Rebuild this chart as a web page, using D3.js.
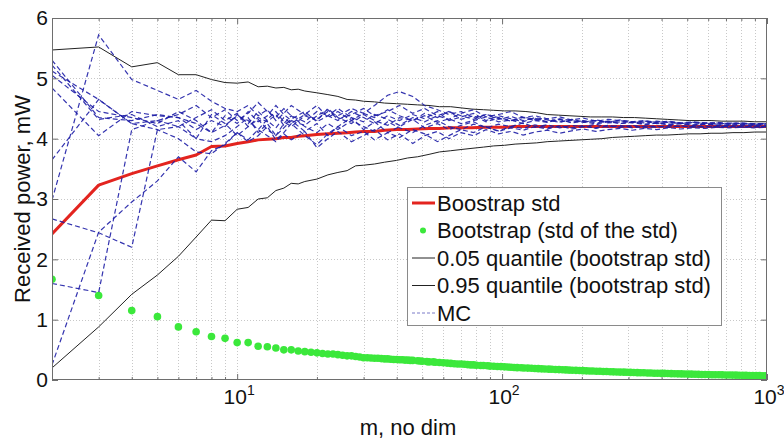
<!DOCTYPE html>
<html><head><meta charset="utf-8">
<script src="https://cdn.jsdelivr.net/npm/d3@7"></script>
<style>body{margin:0;background:#fff} text{font-family:"Liberation Sans",Arial,sans-serif;fill:#111}</style>
</head><body>
<svg id="c" width="784" height="439"></svg>
<script>
// ---------- data ----------
const qM=[2,3,4,5,6,7,8,9,10,11,12,13,14,15,16,17,18,20,22,24,26,28,30,33,36,40,44,48,53,58,64,70,77,85,93,102,112,123,135,148,163,179,197,216,238,261,287,316,347,382,420,462,508,559,615,676,744,818,900,1000];
const bootStd=[2.42,3.23,3.42,3.55,3.65,3.73,3.87,3.88,3.92,3.95,3.98,3.99,4.00,4.02,4.02,4.04,4.05,4.07,4.08,4.09,4.10,4.11,4.12,4.12,4.14,4.15,4.15,4.16,4.17,4.17,4.18,4.18,4.18,4.19,4.19,4.19,4.20,4.20,4.20,4.20,4.20,4.20,4.20,4.20,4.20,4.20,4.20,4.20,4.20,4.20,4.20,4.20,4.20,4.20,4.20,4.20,4.20,4.20,4.20,4.20];
const q05=[0.20,0.88,1.42,1.74,2.05,2.37,2.65,2.64,2.83,2.86,3.00,3.02,3.14,3.18,3.26,3.25,3.29,3.33,3.40,3.44,3.47,3.55,3.56,3.58,3.61,3.64,3.68,3.70,3.74,3.78,3.80,3.82,3.84,3.86,3.88,3.89,3.91,3.92,3.93,3.95,3.96,3.97,3.98,3.99,4.00,4.02,4.03,4.04,4.05,4.06,4.06,4.07,4.08,4.08,4.09,4.09,4.10,4.10,4.11,4.11];
const q95=[5.47,5.52,5.19,5.26,5.06,5.06,4.98,4.93,4.92,4.94,4.86,4.87,4.84,4.85,4.81,4.82,4.79,4.76,4.73,4.70,4.65,4.64,4.62,4.61,4.59,4.58,4.57,4.56,4.55,4.53,4.53,4.51,4.49,4.48,4.47,4.46,4.46,4.45,4.43,4.40,4.39,4.38,4.37,4.36,4.36,4.36,4.35,4.35,4.34,4.33,4.32,4.31,4.30,4.30,4.30,4.29,4.29,4.29,4.28,4.28];

const greenM=[2,3,4,5,6,7,8,9,10,11,12,13,14,15,16,17,18,19,20,21,22,23,24,25,26,27,28,29,
30,31,32,33,34,35,36,37,38,39,40,41,42,43,44,45,46,48,49,50,52,53,55,56,58,60,62,64,66,68,70,72,74,76,78,80,83,85,88,90,93,96,99,
102,105,108,111,114,118,121,125,129,133,137,141,145,150,154,159,164,169,174,179,184,190,196,202,208,214,220,227,234,241,248,256,263,271,279,288,296,
305,314,324,333,343,354,364,375,386,398,410,422,435,448,461,475,489,504,519,535,551,567,584,602,620,638,658,677,698,719,740,763,785,809,833,858,884,910,938,966,995,1000];
const greenV=[1.67,1.40,1.15,1.05,0.88,0.80,0.72,0.69,0.62,0.62,0.56,0.55,0.53,0.50,0.50,0.48,0.47,0.46,0.45,0.44,0.43,0.43,0.42,0.41,0.40,0.40,0.39,0.38,
0.37,0.37,0.365,0.36,0.36,0.355,0.35,0.35,0.345,0.34,0.34,0.335,0.335,0.33,0.33,0.325,0.325,0.32,0.315,0.31,0.305,0.30,0.30,0.295,0.29,0.285,0.28,0.275,0.27,0.265,0.265,0.26,0.255,0.25,0.25,0.245,0.24,0.24,0.235,0.23,0.228,0.225,0.222,
0.218,0.215,0.212,0.208,0.205,0.202,0.20,0.197,0.194,0.19,0.188,0.185,0.183,0.18,0.177,0.174,0.172,0.17,0.167,0.164,0.162,0.16,0.157,0.155,0.152,0.15,0.148,0.146,0.144,0.142,0.14,0.137,0.135,0.133,0.131,0.13,0.128,
0.126,0.124,0.122,0.12,0.119,0.117,0.115,0.113,0.112,0.11,0.109,0.107,0.105,0.104,0.102,0.101,0.10,0.098,0.097,0.095,0.094,0.092,0.091,0.09,0.088,0.087,0.086,0.085,0.083,0.082,0.081,0.08,0.079,0.077,0.076,0.075,0.074,0.073,0.072,0.071,0.07,0.07];

const mcM=[2,3,4,5,6,7,8,9,10,11,12,13,14,15,16,18,20,22,24,27,30,33,37,41,46,51,57,63,70,78,87,97,108,120,133,148,165,183,203,226,251,279,310,345,383,426,473,526,584,649,721,801,890,1000];
const mc1=[5.30,4.35,4.30,4.40,4.35,4.25,4.10,4.22,4.38,4.30,4.15,4.32,4.45,4.28,4.20,4.38,4.30,4.50,4.35,4.25,4.40,4.30,4.22,4.35,4.30,4.38,4.27,4.33,4.25,4.30,4.36,4.28,4.31,4.25,4.30,4.27,4.32,4.26,4.29,4.24,4.28,4.25,4.27,4.23,4.26,4.24,4.25,4.22,4.24,4.23,4.22,4.24,4.22,4.23];
const mc2=[5.22,4.32,4.40,4.20,4.30,4.00,3.95,4.05,4.20,4.35,4.10,4.25,4.05,4.18,4.30,4.12,4.25,4.05,4.20,4.35,4.15,4.28,4.10,4.20,4.32,4.18,4.25,4.15,4.22,4.28,4.18,4.24,4.20,4.26,4.19,4.23,4.18,4.22,4.20,4.24,4.19,4.22,4.18,4.21,4.19,4.22,4.20,4.21,4.19,4.21,4.20,4.21,4.19,4.20];
const mc3=[2.98,5.72,4.98,4.80,4.65,4.80,4.62,4.50,4.45,4.55,4.38,4.48,4.30,4.42,4.55,4.40,4.32,4.45,4.38,4.50,4.42,4.55,4.72,4.78,4.70,4.55,4.48,4.40,4.45,4.35,4.40,4.32,4.37,4.30,4.34,4.28,4.32,4.27,4.30,4.26,4.29,4.25,4.28,4.24,4.26,4.23,4.25,4.23,4.24,4.22,4.23,4.22,4.23,4.22];
const mc4=[5.12,4.65,4.25,4.15,4.00,3.78,3.75,3.92,4.10,3.95,4.05,4.20,3.98,4.10,4.25,4.05,3.90,4.08,4.20,4.05,4.12,3.98,4.10,4.02,4.15,4.08,3.95,4.05,4.15,4.10,4.20,4.12,4.18,4.14,4.20,4.16,4.21,4.18,4.22,4.17,4.21,4.19,4.22,4.20,4.21,4.19,4.21,4.20,4.21,4.20,4.21,4.20,4.21,4.20];
const mc5=[4.84,4.05,4.45,4.38,4.35,4.15,4.30,4.20,4.40,4.25,4.45,4.30,4.18,4.35,4.25,4.40,4.55,4.35,4.45,4.30,4.42,4.35,4.48,4.38,4.30,4.42,4.35,4.45,4.38,4.32,4.40,4.35,4.30,4.36,4.32,4.28,4.33,4.30,4.27,4.31,4.28,4.30,4.26,4.29,4.27,4.28,4.26,4.27,4.25,4.26,4.25,4.26,4.24,4.25];
const mc6=[3.65,4.65,4.25,4.30,4.40,4.55,4.35,4.48,4.30,4.42,4.60,4.45,4.35,4.50,4.38,4.28,4.45,4.38,4.30,4.45,4.35,4.25,4.38,4.30,4.40,4.33,4.45,4.30,4.36,4.42,4.30,4.38,4.33,4.28,4.35,4.31,4.27,4.32,4.28,4.30,4.27,4.31,4.28,4.26,4.29,4.27,4.25,4.27,4.26,4.24,4.26,4.25,4.24,4.25];
const mc7=[2.67,2.44,2.20,4.15,4.20,4.00,4.40,4.25,4.05,4.20,4.32,4.15,4.05,4.25,4.38,4.20,4.10,4.25,4.15,4.30,4.20,4.12,4.28,4.18,4.10,4.22,4.30,4.20,4.15,4.24,4.19,4.13,4.20,4.17,4.23,4.18,4.21,4.16,4.20,4.18,4.22,4.19,4.21,4.18,4.20,4.19,4.21,4.19,4.20,4.19,4.20,4.19,4.20,4.20];
const mc8=[1.60,1.45,4.15,4.30,4.20,4.35,4.48,4.30,4.42,4.20,4.35,4.28,4.40,4.22,4.32,4.45,4.28,4.38,4.50,4.35,4.28,4.40,4.32,4.22,4.35,4.28,4.38,4.45,4.32,4.38,4.28,4.34,4.29,4.35,4.30,4.33,4.28,4.31,4.27,4.30,4.26,4.28,4.27,4.29,4.25,4.27,4.26,4.24,4.26,4.25,4.24,4.25,4.24,4.24];
const mc9=[0.25,2.45,2.95,3.30,3.70,3.45,3.80,3.90,4.10,3.98,4.15,4.05,3.95,4.08,3.98,4.12,3.85,4.00,4.12,3.95,4.05,4.15,3.98,4.08,3.92,4.05,4.12,4.00,4.10,4.05,4.15,4.08,4.12,4.06,4.11,4.14,4.09,4.13,4.16,4.12,4.15,4.17,4.14,4.17,4.15,4.18,4.16,4.18,4.17,4.19,4.18,4.19,4.18,4.19];
const mc10=[5.05,4.45,4.35,4.25,4.45,4.30,4.10,4.38,4.25,4.45,4.28,4.38,4.55,4.40,4.30,4.22,4.38,4.48,4.32,4.40,4.50,4.38,4.45,4.55,4.42,4.50,4.38,4.32,4.42,4.48,4.36,4.40,4.45,4.35,4.38,4.33,4.36,4.31,4.34,4.29,4.32,4.30,4.28,4.30,4.27,4.29,4.26,4.28,4.26,4.27,4.25,4.26,4.25,4.25];
const mcSeries=[mc1,mc2,mc3,mc4,mc5,mc6,mc7,mc8,mc9,mc10];

const yTicks=[0,1,2,3,4,5,6];
const xMajor=[10,100,1000];
const xMajorExp=["1","2","3"];
const legendLabels=["Boostrap std","Bootstrap (std of the std)","0.05 quantile (bootstrap std)","0.95 quantile (bootstrap std)","MC"];

// ---------- layout ----------
const L=52,R=767,T=18,B=380;
const svg=d3.select("#c");
const x=d3.scaleLog().domain([2,1000]).range([L,R]);
const y=d3.scaleLinear().domain([0,6]).range([B,T]);
const zip=(ms,vs)=>ms.slice(0,Math.min(ms.length,vs.length)).map((m,i)=>[m,vs[i]]);

svg.append("rect").attr("x",0).attr("y",0).attr("width",784).attr("height",439).attr("fill","#fff");
svg.append("defs").append("clipPath").attr("id","clip").append("rect")
  .attr("x",L).attr("y",T).attr("width",R-L).attr("height",B-T);

const xMinor=[];
for(const d of [1,10,100]) for(let k=2;k<=9;k++){const v=d*k; if(v>2&&v<1000) xMinor.push(v);}
const xGridVals=xMinor.concat([10,100]);

// grid
const grid=svg.append("g").attr("stroke","#c8c8c8").attr("stroke-width",1).attr("stroke-dasharray","1,2");
grid.selectAll("line.gx").data(xGridVals).join("line")
  .attr("x1",d=>Math.round(x(d))+0.5).attr("x2",d=>Math.round(x(d))+0.5).attr("y1",T).attr("y2",B);
grid.selectAll("line.gy").data(yTicks.filter(d=>d>0&&d<6)).join("line")
  .attr("class","gy").attr("x1",L).attr("x2",R).attr("y1",d=>Math.round(y(d))+0.5).attr("y2",d=>Math.round(y(d))+0.5);

// axes (inward ticks)
const axCol="#6e6e6e";
function styleAxis(g){g.select(".domain").remove();g.selectAll("line").attr("stroke",axCol);g.selectAll("text").remove();}
svg.append("g").attr("transform",`translate(0,${B})`).call(d3.axisBottom(x).tickValues(xMajor).tickSize(-6)).call(styleAxis);
svg.append("g").attr("transform",`translate(0,${B})`).call(d3.axisBottom(x).tickValues(xMinor).tickSize(-3)).call(styleAxis);
svg.append("g").attr("transform",`translate(0,${T})`).call(d3.axisTop(x).tickValues(xMajor).tickSize(-6)).call(styleAxis);
svg.append("g").attr("transform",`translate(0,${T})`).call(d3.axisTop(x).tickValues(xMinor).tickSize(-3)).call(styleAxis);
svg.append("g").attr("transform",`translate(${L},0)`).call(d3.axisLeft(y).tickValues(yTicks).tickSize(-6)).call(styleAxis);
svg.append("g").attr("transform",`translate(${R},0)`).call(d3.axisRight(y).tickValues(yTicks).tickSize(-6)).call(styleAxis);

// data layers
const plot=svg.append("g").attr("clip-path","url(#clip)");
const line=d3.line().x(d=>x(d[0])).y(d=>y(d[1]));

plot.append("path").datum(zip(qM,bootStd)).attr("d",line).attr("fill","none")
  .attr("stroke","#e3241f").attr("stroke-width",3).attr("stroke-linejoin","round");
plot.selectAll("circle.g").data(zip(greenM,greenV)).join("circle")
  .attr("cx",d=>x(d[0])).attr("cy",d=>y(d[1])).attr("r",3.8).attr("fill","#3be83b");
plot.append("path").datum(zip(qM,q05)).attr("d",line).attr("fill","none").attr("stroke","#222").attr("stroke-width",1);
plot.append("path").datum(zip(qM,q95)).attr("d",line).attr("fill","none").attr("stroke","#222").attr("stroke-width",1);
mcSeries.forEach(s=>{
  plot.append("path").datum(zip(mcM,s)).attr("d",line).attr("fill","none")
    .attr("stroke","#1e1ea6").attr("stroke-opacity",0.9).attr("stroke-width",1.2).attr("stroke-dasharray","5,3");
});

// frame
svg.append("rect").attr("x",L+0.5).attr("y",T+0.5).attr("width",R-L-1).attr("height",B-T-1)
  .attr("fill","none").attr("stroke",axCol).attr("stroke-width",1);

// tick labels
svg.selectAll("text.yt").data(yTicks).join("text").attr("class","yt")
  .attr("x",L-4).attr("y",d=>y(d)).attr("dy","0.35em").attr("text-anchor","end")
  .attr("font-size",21).text(d=>d);
const xt=svg.selectAll("text.xt").data(xMajor).join("text").attr("class","xt")
  .attr("x",d=>x(d)+2).attr("y",404).attr("text-anchor","middle").attr("font-size",21);
xt.append("tspan").text("10");
xt.append("tspan").attr("dy",-9).attr("font-size",14).text((d,i)=>xMajorExp[i]);

// axis labels
svg.append("text").attr("x",408).attr("y",435).attr("text-anchor","middle").attr("font-size",22).text("m, no dim");
svg.append("text").attr("transform","translate(30,199) rotate(-90)").attr("text-anchor","middle").attr("font-size",22).text("Received power, mW");

// legend
const lg=svg.append("g");
lg.append("rect").attr("x",407.5).attr("y",187.5).attr("width",314).attr("height",138)
  .attr("fill","#fff").attr("stroke","#8a8a8a").attr("stroke-width",1);
const rowY=i=>203+i*27.5;
lg.append("line").attr("x1",412).attr("x2",435).attr("y1",rowY(0)).attr("y2",rowY(0)).attr("stroke","#e3241f").attr("stroke-width",3);
lg.append("circle").attr("cx",423).attr("cy",rowY(1)).attr("r",3).attr("fill","#3be83b");
lg.append("line").attr("x1",412).attr("x2",435).attr("y1",rowY(2)).attr("y2",rowY(2)).attr("stroke","#222").attr("stroke-width",1);
lg.append("line").attr("x1",412).attr("x2",435).attr("y1",rowY(3)).attr("y2",rowY(3)).attr("stroke","#222").attr("stroke-width",1);
lg.append("line").attr("x1",412).attr("x2",435).attr("y1",rowY(4)).attr("y2",rowY(4)).attr("stroke","#7a7ac8").attr("stroke-width",1).attr("stroke-dasharray","3,2");
lg.selectAll("text").data(legendLabels).join("text").attr("x",437).attr("y",(d,i)=>rowY(i)).attr("dy","0.35em")
  .attr("font-size",22).text(d=>d);
</script>
</body></html>
